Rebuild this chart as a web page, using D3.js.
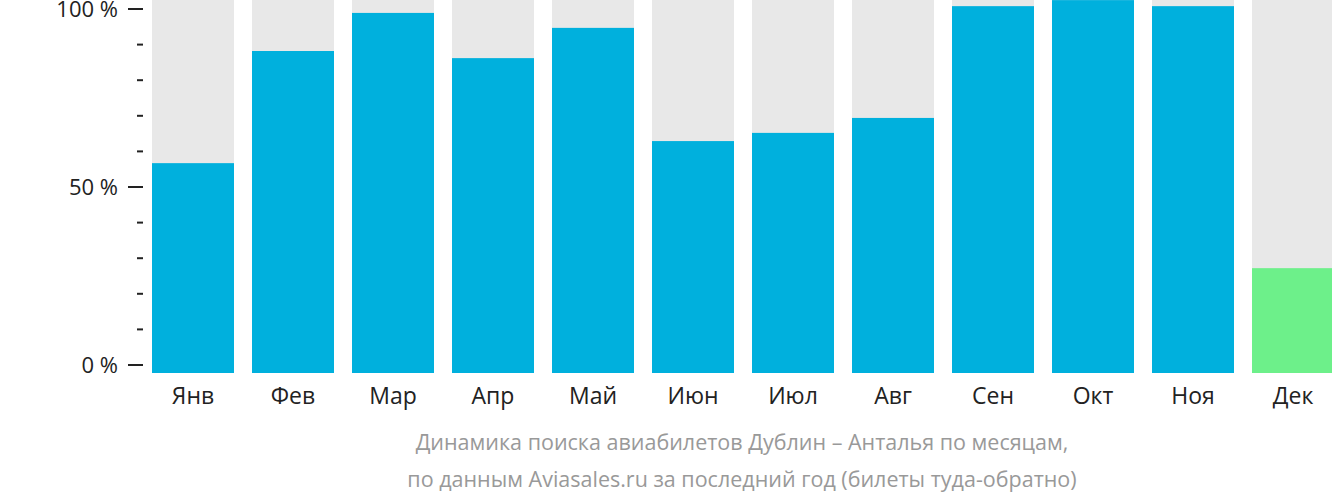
<!DOCTYPE html><html><head><meta charset="utf-8"><script src="https://d3js.org/d3.v7.min.js"></script>
<style>body{margin:0;background:#fff}text{font-family:"Open Sans",sans-serif}</style></head><body>
<script>
const months=["Янв","Фев","Мар","Апр","Май","Июн","Июл","Авг","Сен","Окт","Ноя","Дек"];
const values=[56.7,88.2,98.9,86.2,94.7,62.9,65.2,69.4,100.8,102.5,100.8,27.2];
const tickLabels=["0 %","50 %","100 %"];
const caption=["Динамика поиска авиабилетов Дублин – Анталья по месяцам,","по данным Aviasales.ru за последний год (билеты туда-обратно)"];
const W=1332,H=502;
const svg=d3.select("body").append("svg").attr("width",W).attr("height",H);
const x=d3.scaleBand().domain(months).range([152,1334]).paddingInner(0.18).paddingOuter(0);
const y=d3.scaleLinear().domain([0,100]).range([365,9]);
const base=373;
svg.selectAll(".bg").data(months).join("rect").attr("x",d=>x(d)).attr("y",0).attr("width",x.bandwidth()).attr("height",base).attr("fill","#e8e8e8");
svg.selectAll(".bar").data(values).join("rect").attr("x",(d,i)=>x(months[i])).attr("y",d=>y(d)).attr("width",x.bandwidth()).attr("height",d=>base-y(d)).attr("fill",(d,i)=>i==11?"#6df08a":"#00b0dd");
const g=svg.append("g");
d3.range(0,101,10).forEach(v=>{const major=v%50==0;g.append("line").attr("x1",major?128:137).attr("x2",143).attr("y1",y(v)).attr("y2",y(v)).attr("stroke","#222").attr("stroke-width",2);});
[0,50,100].forEach((v,i)=>g.append("text").attr("x",118).attr("y",y(v)).attr("dy","0.35em").attr("text-anchor","end").attr("font-size",22).attr("fill","#222").text(tickLabels[i]));
svg.selectAll(".ml").data(months).join("text").attr("x",d=>x(d)+x.bandwidth()/2).attr("y",404).attr("text-anchor","middle").attr("font-size",23).attr("fill","#222").text(d=>d);
caption.forEach((c,i)=>svg.append("text").attr("x",742).attr("y",450+i*37).attr("text-anchor","middle").attr("font-size",21.5).attr("fill","#999").text(c));
</script></body></html>
